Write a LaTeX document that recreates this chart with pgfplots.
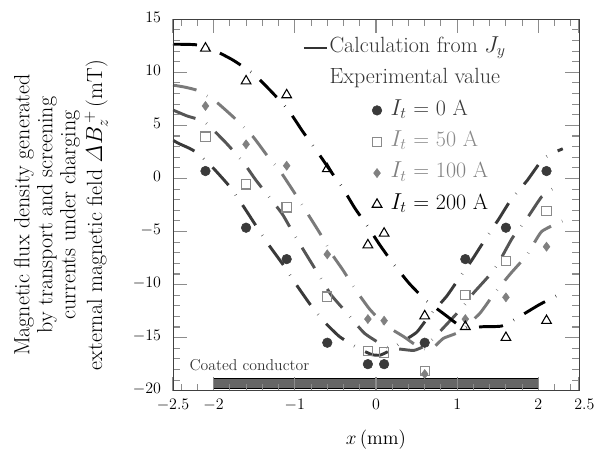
\documentclass[border=0pt]{standalone}
\usepackage{pgfplots}
\pgfplotsset{compat=1.18}
\definecolor{cA}{HTML}{3A3A3A}
\definecolor{cB}{HTML}{555555}
\definecolor{cBm}{HTML}{8A8A8A}
\definecolor{cC}{HTML}{7A7A7A}
\definecolor{cCm}{HTML}{808080}
\definecolor{tickc}{HTML}{8C8C8C}
\definecolor{txt}{HTML}{333333}
\definecolor{barc}{HTML}{666666}
\begin{document}
\begin{tikzpicture}
\useasboundingbox (0,0) rectangle (456pt,339pt);
\begin{axis}[
  at={(129.75pt,45.975pt)}, anchor=south west,
  scale only axis, width=304.5pt, height=278.55pt,
  xmin=-2.5, xmax=2.5, ymin=-20, ymax=15,
  xtick={-2.5,-2,-1,0,1,2,2.5},
  xticklabels={{$-2.5$\hspace{6pt}},$-2$,$-1$,$0$,$1$,$2$,{\hspace{8pt}$2.5$}},
  minor xtick={-2.4,-2.2,-1.8,-1.6,-1.4,-1.2,-0.8,-0.6,-0.4,-0.2,0.2,0.4,0.6,0.8,1.2,1.4,1.6,1.8,2.2,2.4},
  ytick={-20,-15,-10,-5,0,5,10,15},
  minor ytick={-19,-18,-17,-16,-14,-13,-12,-11,-9,-8,-7,-6,-4,-3,-2,-1,1,2,3,4,6,7,8,9,11,12,13,14},
  tick align=inside,
  major tick length=10.5pt, minor tick length=5.25pt,
  every tick/.style={tickc, line width=0.8pt},
  axis line style={black!75, line width=0.6pt},
  axis on top,
  tick label style={font=\fontsize{12.7}{15}\selectfont},
  xticklabel style={yshift=-3pt},
  yticklabel style={xshift=-5.5pt, yshift=1.5pt},
  xlabel={$x$\,(mm)},
  xlabel style={font=\fontsize{14.5}{17}\selectfont, at={(axis description cs:0.5,0)}, anchor=center, yshift=-36.75pt},
  ylabel={Magnetic flux density generated\\by transport and screening\\currents under charging\\[3pt]external magnetic field $\mathit{\Delta}B_z^{\,+}$\,(mT)},
  ylabel style={align=center, font=\fontsize{16.5}{17.2}\selectfont, at={(axis description cs:-0.276,0.473)}, anchor=center},
  legend style={at={(axis cs:-0.9,13.6)}, anchor=north west, draw=none, fill=none, inner sep=0pt,
    font=\fontsize{16.5}{18}\selectfont, row sep=3.5pt,
    nodes={inner sep=1.5pt, text height=12pt, text depth=5pt}, cells={anchor=west}},
]
% coated conductor bar
\addplot[fill=barc, draw=black, line width=0.6pt, forget plot] coordinates {(-2,-19.78) (2,-19.78) (2,-18.84) (-2,-18.84)} -- cycle;
\node[anchor=west, inner sep=0pt, text=txt, font=\fontsize{11.8}{14}\selectfont] at (axis cs:-2.3,-17.6) {Coated conductor};

\pgfplotsset{calc/.style={line width=2.2pt, smooth, tension=0.3, dash pattern=on 18pt off 9pt on 0.3pt off 9pt, forget plot}}
% calculation I=0
\addplot[calc, cA] coordinates {(-2.5,3.6) (-2.43,3.3) (-2.3,2.85) (-2.19,2.37) (-2.1,1.7) (-1.99,0.86) (-1.8,-0.78) (-1.63,-2.66) (-1.47,-4.55) (-1.32,-6.27) (-1.15,-8.06) (-1.0,-9.8) (-0.82,-11.77) (-0.65,-13.4) (-0.45,-14.9) (-0.22,-16.0) (-0.05,-16.6) (0.05,-16.65) (0.15,-16.3) (0.28,-15.6) (0.5,-14.5) (0.65,-13.0) (0.87,-11.1) (1.05,-9.1) (1.18,-7.7) (1.36,-5.55) (1.51,-3.85) (1.66,-2.03) (1.86,-0.21) (2.04,1.7) (2.15,2.3) (2.3,2.8)};
% calculation I=50
\addplot[calc, cB] coordinates {(-2.5,6.45) (-2.33,5.9) (-2.2,5.6) (-2.09,5.2) (-1.86,3.46) (-1.64,1.58) (-1.48,-0.15) (-1.31,-1.8) (-1.15,-3.4) (-1.0,-5.4) (-0.84,-7.4) (-0.69,-9.27) (-0.55,-11.0) (-0.345,-12.8) (-0.14,-14.6) (0.13,-15.9) (0.32,-16.1) (0.47,-16.2) (0.62,-15.7) (0.79,-14.4) (1.07,-12.1) (1.2,-10.8) (1.4,-9.1) (1.52,-7.8) (1.68,-5.6) (1.86,-3.76) (2.04,-1.72) (2.17,-1.0) (2.3,-0.5)};
% calculation I=100
\addplot[calc, cC] coordinates {(-2.5,8.8) (-2.35,8.6) (-2.19,8.27) (-1.97,7.23) (-1.74,5.67) (-1.515,3.94) (-1.33,2.05) (-1.19,0.8) (-1.0,-1.4) (-0.86,-3.1) (-0.69,-5.17) (-0.55,-7.05) (-0.41,-8.6) (-0.25,-10.5) (-0.08,-12.3) (0.11,-13.8) (0.34,-14.9) (0.54,-15.95) (0.68,-16.1) (0.83,-15.07) (1.03,-14.44) (1.28,-12.7) (1.46,-10.8) (1.66,-8.94) (1.86,-7.2) (2.04,-5.0) (2.3,-4.0)};
% calculation I=200
\addplot[calc, black] coordinates {(-2.5,12.65) (-2.22,12.6) (-2.0,12.1) (-1.76,11.15) (-1.5,9.8) (-1.29,8.2) (-1.08,6.45) (-0.9,4.4) (-0.73,2.6) (-0.55,0.6) (-0.41,-0.9) (-0.26,-2.8) (-0.1,-4.55) (0.05,-6.3) (0.21,-8.0) (0.41,-9.9) (0.61,-11.45) (0.86,-12.9) (1.07,-14.05) (1.32,-13.97) (1.55,-13.9) (1.77,-13.0) (2.01,-11.9) (2.26,-10.9) (2.3,-10.7)};

% experimental
\addplot[only marks, mark=*, mark size=3.6pt, cA, mark options={fill=cA, draw=cA}, forget plot] coordinates {(-2.1,0.7) (-1.6,-4.64) (-1.1,-7.6) (-0.6,-15.48) (-0.1,-17.5) (0.1,-17.5) (0.6,-15.48) (1.1,-7.6) (1.6,-4.64) (2.1,0.7)};
\addplot[only marks, mark=square, mark size=3.5pt, cBm, mark options={fill=white, draw=cBm, line width=0.8pt}, forget plot] coordinates {(-2.1,3.94) (-1.6,-0.55) (-1.1,-2.72) (-0.6,-11.14) (-0.1,-16.26) (0.1,-16.39) (0.6,-18.12) (1.1,-10.99) (1.6,-7.78) (2.1,-3.07)};
\addplot[only marks, mark=diamond*, mark size=3.4pt, cCm, mark options={fill=cCm, draw=cCm}, forget plot] coordinates {(-2.1,6.83) (-1.6,3.22) (-1.1,1.2) (-0.6,-7.15) (-0.1,-13.25) (0.1,-13.4) (0.6,-18.43) (1.1,-13.25) (1.6,-11.2) (2.1,-6.43)};
\addplot[only marks, mark=triangle, mark size=4.2pt, black, mark options={fill=white, draw=black, line width=0.8pt}, forget plot] coordinates {(-2.1,12.27) (-1.6,9.18) (-1.1,7.87) (-0.6,0.9) (-0.1,-6.27) (0.1,-5.17) (0.6,-12.96) (1.1,-13.97) (1.6,-15.0) (2.1,-13.4)};

% legend
\addlegendimage{line legend, txt, line width=1.2pt}
\addlegendentry{\textcolor{txt}{Calculation from $J_y$}}
\addlegendimage{empty legend}
\addlegendentry{\textcolor{txt}{Experimental value}}
\addlegendimage{only marks, mark=*, mark size=3.6pt, cA, mark options={fill=cA, draw=cA}, legend image post style={xshift=46.25pt, overlay}}
\addlegendentry{\hspace*{45.75pt}\textcolor{cA}{$I_t$ = 0 A}}
\addlegendimage{only marks, mark=square, mark size=3.5pt, cBm, mark options={fill=white, draw=cBm, line width=0.8pt}, legend image post style={xshift=46.25pt, overlay}}
\addlegendentry{\hspace*{45.75pt}\textcolor{cBm}{$I_t$ = 50 A}}
\addlegendimage{only marks, mark=diamond*, mark size=3.4pt, cCm, mark options={fill=cCm, draw=cCm}, legend image post style={xshift=46.25pt, overlay}}
\addlegendentry{\hspace*{45.75pt}\textcolor{cCm}{$I_t$ = 100 A}}
\addlegendimage{only marks, mark=triangle, mark size=4.2pt, black, mark options={fill=white, draw=black, line width=0.8pt}, legend image post style={xshift=46.25pt, overlay}}
\addlegendentry{\hspace*{45.75pt}\textcolor{black}{$I_t$ = 200 A}}
\end{axis}
\end{tikzpicture}
\end{document}
